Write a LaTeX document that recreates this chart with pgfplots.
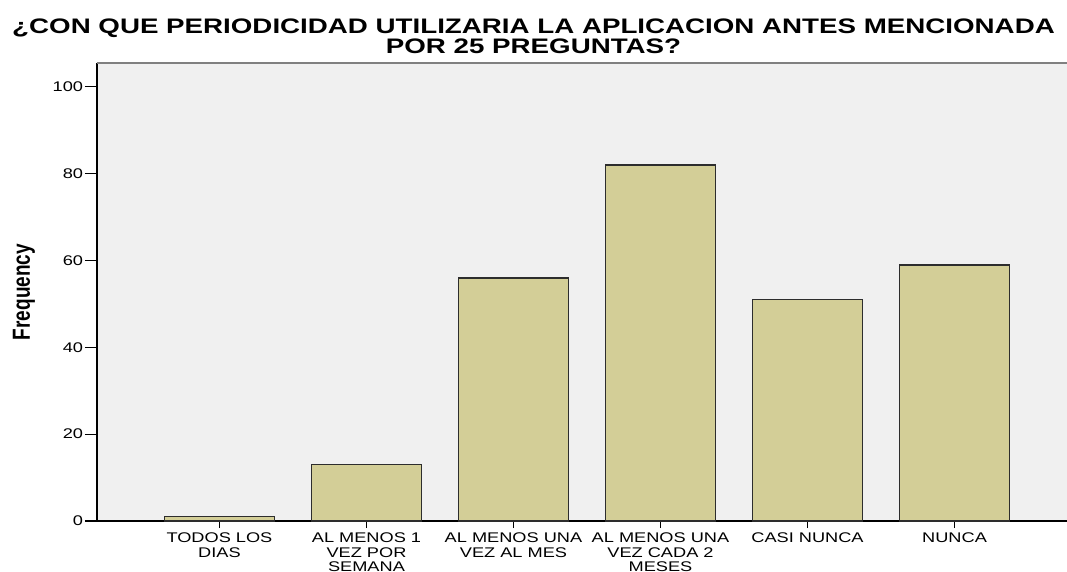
\documentclass[border=0pt]{standalone}
\usepackage{pgfplots}
\pgfplotsset{compat=1.18}
\usepackage{graphicx}
\usepackage{fontspec}
\setmainfont{Liberation Sans}
\newfontfamily\tickfont[FakeStretch=1.3]{Liberation Sans}
\newfontfamily\titlefont[FakeStretch=1.32]{Liberation Sans}
\definecolor{barfill}{RGB}{211,206,151}
\definecolor{bgfill}{RGB}{240,240,240}
\definecolor{baredge}{RGB}{45,45,45}
\begin{document}
\begin{tikzpicture}
\path[use as bounding box] (-72.75pt,-37.5pt) rectangle (727.5pt,390.75pt);
\begin{axis}[
  name=ax,
  at={(0,0)}, anchor=south west,
  scale only axis,
  width=727.5pt, height=343.5pt,
  xmin=-0.833, xmax=5.765,
  ymin=0, ymax=105.5,
  axis x line*=bottom, axis y line*=left,
  axis line style={black, line width=0.9pt, -},
  axis background/.style={fill=bgfill},
  ybar, bar width=0.75,
  xtick={0,1,2,3,4,5},
  xticklabels={{TODOS LOS\\DIAS},{AL MENOS 1\\VEZ POR\\SEMANA},{AL MENOS UNA\\VEZ AL MES},{AL MENOS UNA\\VEZ CADA 2\\MESES},{CASI NUNCA},{NUNCA}},
  ytick={0,20,40,60,80,100},
  tick align=outside,
  xtick style={black, line width=0.9pt, /pgfplots/major tick length=5.25pt},
  ytick style={black, line width=0.9pt, /pgfplots/major tick length=9pt},
  /pgf/number format/assume math mode=true,
  yticklabel style={font=\tickfont\fontsize{10.5}{12}\selectfont, inner sep=1pt, xshift=-5pt},
  xticklabel style={font=\tickfont\fontsize{10.5}{10.9}\selectfont, align=center, inner sep=1pt, yshift=-3.5pt},
  ylabel={\scalebox{1}[1.3]{\bfseries\fontsize{14.25}{16}\selectfont Frequency}},
  ylabel style={at={(axis description cs:-0.0753,0.5)}, anchor=center},
  clip=false,
]
\addplot[fill=barfill, draw=baredge, line width=1.1pt] coordinates {
  (0,1) (1,13) (2,56) (3,82) (4,51) (5,59)
};
\draw[gray, line width=0.9pt] (rel axis cs:0,1) -- (rel axis cs:1,1);
\end{axis}
\node[anchor=base, font=\titlefont\bfseries\fontsize{15.75}{16}\selectfont] at (327.4pt,365.5pt) {¿CON QUE PERIODICIDAD UTILIZARIA LA APLICACION ANTES MENCIONADA};
\node[anchor=base, font=\titlefont\bfseries\fontsize{15.75}{16}\selectfont] at (327.4pt,350.5pt) {POR 25 PREGUNTAS?};
\end{tikzpicture}
\end{document}
